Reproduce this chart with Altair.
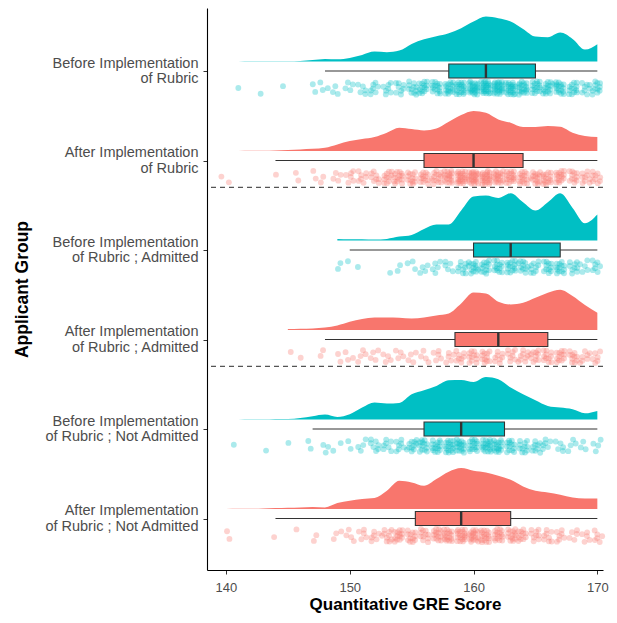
import altair as alt
import pandas as pd

# ---------------- data ----------------
group_labels = [
    "Before Implementation|of Rubric",
    "After Implementation|of Rubric",
    "Before Implementation|of Rubric ; Admitted",
    "After Implementation|of Rubric ; Admitted",
    "Before Implementation|of Rubric ; Not Admitted",
    "After Implementation|of Rubric ; Not Admitted",
]
group_phase = ["Before", "After", "Before", "After", "Before", "After"]
group_pos = [6, 5, 4, 3, 2, 1]          # category slots, top to bottom

scores = list(range(140, 171))

# relative density heights (None = outside the data range)
dens_1 = [None, 0, 1, 1, 1, 1, 2, 5, 8, 7, 11, 20, 30, 28, 33, 53, 67, 76, 85, 100, 120, 135, 130, 120, 98, 75, 73, 87, 68, 36, 52]
dens_2 = [0, 0.5, 1, 1, 2, 3, 5, 7, 10, 20, 30, 36, 42, 55, 70, 66, 62, 68, 88, 108, 120, 115, 95, 85, 72, 72, 75, 73, 55, 45, 42]
dens_3 = [None] * 9 + [5, 4, 4, 3, 5, 12, 17, 35, 48, 48, 90, 132, 135, 128, 142, 115, 90, 115, 142, 98, 52, 78]
dens_4 = [None] * 5 + [3, 4, 5, 8, 14, 25, 33, 38, 38, 37, 35, 38, 44, 50, 80, 113, 110, 85, 77, 82, 97, 112, 121, 102, 75, 52]
dens_5 = [None, 0, 1, 1, 2, 2, 5, 10, 15, 8, 16, 36, 51, 48, 50, 76, 88, 101, 118, 119, 113, 128, 121, 96, 76, 58, 41, 36, 31, 19, 26]
dens_6 = [0, 1, 1, 2, 3, 4, 5, 6, 5, 18, 25, 30, 33, 55, 85, 80, 70, 90, 112, 123, 115, 110, 100, 88, 68, 55, 50, 43, 35, 32, 32]
densities = [dens_1, dens_2, dens_3, dens_4, dens_5, dens_6]

# applicants per integer score (140..170)
count_1 = [0, 1, 0, 1, 0, 1, 0, 2, 3, 3, 4, 5, 7, 7, 8, 11, 14, 15, 17, 20, 24, 26, 25, 23, 19, 16, 15, 17, 13, 8, 11]
count_2 = [2, 0, 0, 0, 1, 0, 2, 2, 2, 4, 6, 7, 8, 11, 14, 13, 13, 14, 18, 22, 24, 23, 19, 17, 15, 15, 15, 15, 11, 9, 9]
count_3 = [0, 0, 0, 0, 0, 0, 0, 0, 0, 2, 1, 1, 0, 1, 2, 3, 4, 5, 5, 9, 13, 13, 13, 14, 11, 9, 11, 13, 9, 5, 7]
count_4 = [0, 0, 0, 0, 0, 1, 1, 0, 2, 2, 3, 4, 4, 4, 4, 4, 4, 5, 5, 8, 11, 11, 8, 8, 9, 10, 11, 12, 10, 7, 6]
count_5 = [0, 1, 0, 1, 0, 1, 0, 2, 3, 2, 2, 4, 7, 7, 7, 11, 13, 15, 17, 17, 16, 19, 17, 13, 11, 9, 6, 5, 4, 3, 4]
count_6 = [2, 0, 0, 0, 1, 0, 1, 2, 0, 3, 4, 5, 6, 10, 13, 12, 11, 14, 17, 19, 18, 17, 16, 14, 11, 9, 8, 7, 5, 5, 6]
counts = [count_1, count_2, count_3, count_4, count_5, count_6]

# box-plot statistics: lower whisker, Q1, median, Q3, upper whisker
box_lo = [148, 144, 150, 148, 147, 144]
box_q1 = [158, 156, 160, 158.5, 156, 155.3]
box_med = [161, 160, 163, 162, 159, 159]
box_q3 = [165, 164, 167, 166, 162.5, 163]
box_hi = [170, 170, 170, 170, 170, 170]

separator_pos = [4.7, 2.7]
x_ticks = [140, 150, 160, 170]

# ---------------- tables ----------------
dens_rows, pt_rows = [], []
k = 0
for g in range(6):
    for s, d, c in zip(scores, densities[g], counts[g]):
        if d is not None:
            dens_rows.append({"grp": g, "phase": group_phase[g], "pos": group_pos[g], "score": s, "dens": d})
        for _ in range(c):
            pt_rows.append({"grp": g, "phase": group_phase[g], "pos": group_pos[g], "score": s, "k": k})
            k += 1
dens_df = pd.DataFrame(dens_rows)
pt_df = pd.DataFrame(pt_rows)
box_df = pd.DataFrame({"phase": group_phase, "pos": group_pos, "lo": box_lo, "q1": box_q1,
                       "med": box_med, "q3": box_q3, "hi": box_hi})
sep_df = pd.DataFrame({"y": separator_pos})

# ---------------- scales / axes ----------------
FONT = "Liberation Sans"
W, H = 396, 562
PX_PER_UNIT = 12.38
xscale = alt.Scale(domain=[138.47, 138.47 + W / PX_PER_UNIT], nice=False, zero=False)
yscale = alt.Scale(domain=[6.704 - H / 89.5, 6.704], nice=False, zero=False)
color = alt.Color("phase:N", scale=alt.Scale(domain=["Before", "After"], range=["#00BFC4", "#F8766D"]), legend=None)

label_array = "[" + ",".join("'" + lab + "'" for lab in group_labels) + "]"
yaxis = alt.Axis(values=group_pos, labelExpr="split(" + label_array + "[6 - datum.value], '|')",
                 title="Applicant Group", grid=False, domainColor="black", domainWidth=1.1,
                 tickColor="#333333", tickSize=4, labelColor="#4D4D4D", labelFontSize=14.5,
                 labelLineHeight=15.5, labelPadding=5, labelOffset=-7.75, labelOverlap=False,
                 labelFont=FONT, titleFont=FONT, titleFontSize=17.5, titleFontWeight="bold",
                 titleColor="black", titlePadding=13)
xaxis = alt.Axis(values=x_ticks, format="d", title="Quantitative GRE Score", grid=False,
                 domainColor="black", domainWidth=1.1, tickColor="#333333", tickSize=4,
                 labelColor="#4D4D4D", labelFontSize=13, labelPadding=7, labelFont=FONT,
                 titleFont=FONT, titleFontSize=17, titleFontWeight="bold", titleColor="black",
                 titlePadding=2)

DENS_BASE = 0.105
DENS_SCALE = 1 / 268.5
BOX_HALF = 0.078

dens_layer = alt.Chart(dens_df).transform_calculate(
    y0=f"datum.pos + {DENS_BASE}", y1=f"datum.pos + {DENS_BASE} + datum.dens * {DENS_SCALE}"
).mark_area(interpolate="monotone", opacity=1).encode(
    x=alt.X("score:Q", scale=xscale, axis=xaxis),
    y=alt.Y("y0:Q", scale=yscale, axis=yaxis),
    y2="y1:Q",
    color=color,
    detail="grp:N",
)

pts_layer = alt.Chart(pt_df).transform_calculate(
    px="datum.score + (((0.5 + datum.k * 0.7548776662) % 1) - 0.5) * 0.8",
    py="datum.pos - 0.19 + (((0.5 + datum.k * 0.5698402910) % 1) - 0.5) * 0.15",
).mark_circle(size=34, opacity=0.33).encode(
    x=alt.X("px:Q", scale=xscale, axis=xaxis),
    y=alt.Y("py:Q", scale=yscale, axis=yaxis),
    color=color,
)

whisk = alt.Chart(box_df).mark_rule(color="#333333", strokeWidth=1.1).encode(
    x=alt.X("lo:Q", scale=xscale, axis=xaxis), x2="hi:Q",
    y=alt.Y("pos:Q", scale=yscale, axis=yaxis),
)
box = alt.Chart(box_df).transform_calculate(
    b0=f"datum.pos - {BOX_HALF}", b1=f"datum.pos + {BOX_HALF}"
).mark_rect(stroke="#333333", strokeWidth=1.1, opacity=1).encode(
    x=alt.X("q1:Q", scale=xscale, axis=xaxis), x2="q3:Q",
    y=alt.Y("b0:Q", scale=yscale, axis=yaxis), y2="b1:Q",
    color=color,
)
median = alt.Chart(box_df).transform_calculate(
    b0=f"datum.pos - {BOX_HALF}", b1=f"datum.pos + {BOX_HALF}"
).mark_rule(color="#333333", strokeWidth=2.4).encode(
    x=alt.X("med:Q", scale=xscale, axis=xaxis),
    y=alt.Y("b0:Q", scale=yscale, axis=yaxis), y2="b1:Q",
)
seps = alt.Chart(sep_df).mark_rule(color="#555555", strokeWidth=1.1, strokeDash=[5, 4]).encode(
    y=alt.Y("y:Q", scale=yscale, axis=yaxis),
)

chart = alt.layer(dens_layer, pts_layer, whisk, box, median, seps).properties(
    width=W, height=H,
    padding={"left": 199, "top": 0, "right": 6, "bottom": 45},
    autosize=alt.AutoSizeParams(type="none"),
).configure(background="white").configure_view(stroke=None)

chart.save("out.html", embed_options={"renderer": "svg", "actions": False})
